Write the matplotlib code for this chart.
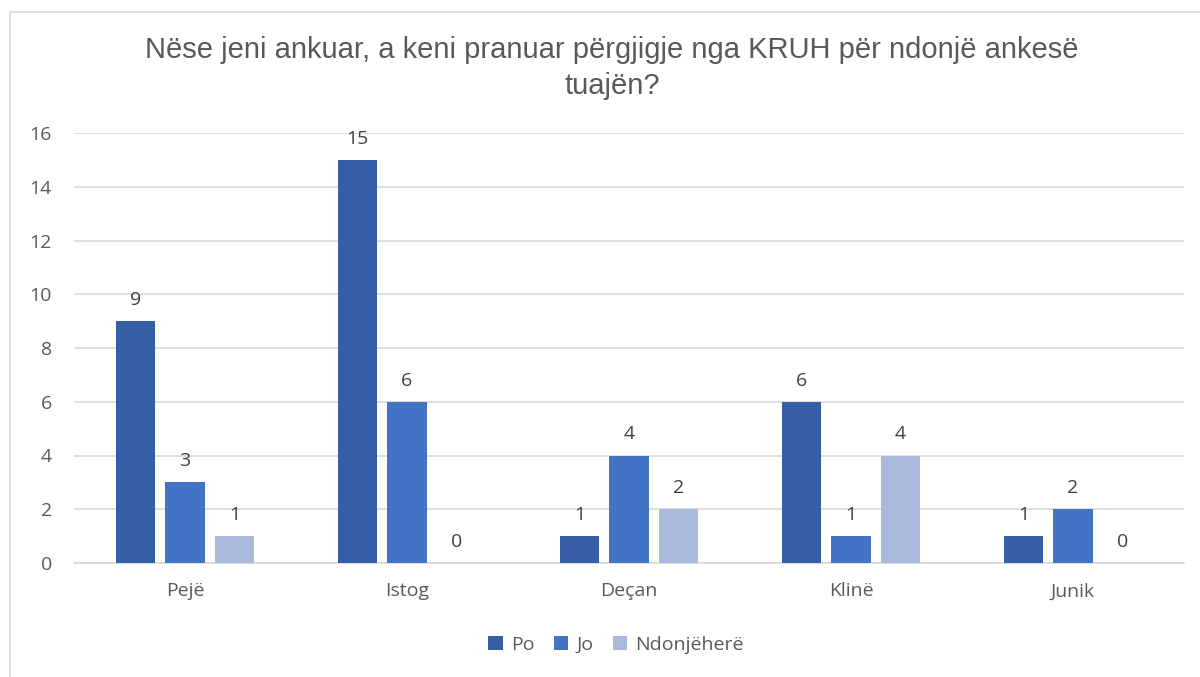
import matplotlib
matplotlib.use("Agg")
import matplotlib.pyplot as plt
import numpy as np
from matplotlib.patches import Rectangle

categories = ["Pejë", "Istog", "Deçan", "Klinë", "Junik"]
series_names = ["Po", "Jo", "Ndonjëherë"]
po = [9, 15, 1, 6, 1]
jo = [3, 6, 4, 1, 2]
ndonjehere = [1, 0, 2, 4, 0]
colors = ["#355EA6", "#4472C4", "#A9B8DC"]
title = "Nëse jeni ankuar, a keni pranuar përgjigje nga KRUH për ndonjë ankesë\ntuajën?"

W, H = 1200, 677
fig = plt.figure(figsize=(W / 100, H / 100), dpi=100)
# plot area in pixels: x 74..1184, y 133..563
ax = fig.add_axes([74 / W, 1 - 563 / H, 1110 / W, 430 / H])

# chart frame
fig.patches.append(Rectangle((10 / W, -0.05), 1.1, 1 - 12 / H + 0.05,
                             transform=fig.transFigure, fill=False,
                             edgecolor="#D9D9D9", linewidth=1.2))

x = np.arange(len(categories))
step = 0.223
width = 0.176
tick_font = ["Open Sans", "DejaVu Sans"]
fs = 14

for i, (vals, name) in enumerate(zip([po, jo, ndonjehere], series_names)):
    pos = x + (i - 1) * step
    ax.bar(pos, vals, width=width, color=colors[i], label=name, zorder=3)
    for px, v in zip(pos, vals):
        ax.text(px, v + 0.45, str(v), ha="center", va="bottom",
                fontsize=fs, color="#404040", family=tick_font)

ax.set_xlim(-0.5, len(categories) - 0.5)
ax.set_ylim(0, 16)
ax.set_yticks(range(0, 17, 2))
ax.set_xticks(x)
ax.set_xticklabels(categories)
ax.grid(axis="y", color="#D9D9D9", linewidth=1.2, zorder=0)
for side in ["top", "right", "left"]:
    ax.spines[side].set_visible(False)
ax.spines["bottom"].set_color("#D9D9D9")
ax.spines["bottom"].set_linewidth(1.2)
ax.tick_params(axis="both", length=0, labelsize=fs, labelcolor="#595959")
ax.tick_params(axis="y", pad=16)
ax.tick_params(axis="x", pad=14)
for lbl in ax.get_xticklabels() + ax.get_yticklabels():
    lbl.set_family(tick_font)

fig.text(612 / W, 1 - 68 / H, title, ha="center", va="center", fontsize=21,
         color="#595959", family=["Liberation Sans", "DejaVu Sans"],
         linespacing=1.35)

leg = fig.legend(loc="center", bbox_to_anchor=(616 / W, 1 - 645 / H), ncol=3,
                 frameon=False, handlelength=0.75, handleheight=0.75,
                 handletextpad=0.4, columnspacing=1.0,
                 prop={"family": tick_font, "size": fs})
for t in leg.get_texts():
    t.set_color("#595959")

fig.savefig("out.png", dpi=100)
